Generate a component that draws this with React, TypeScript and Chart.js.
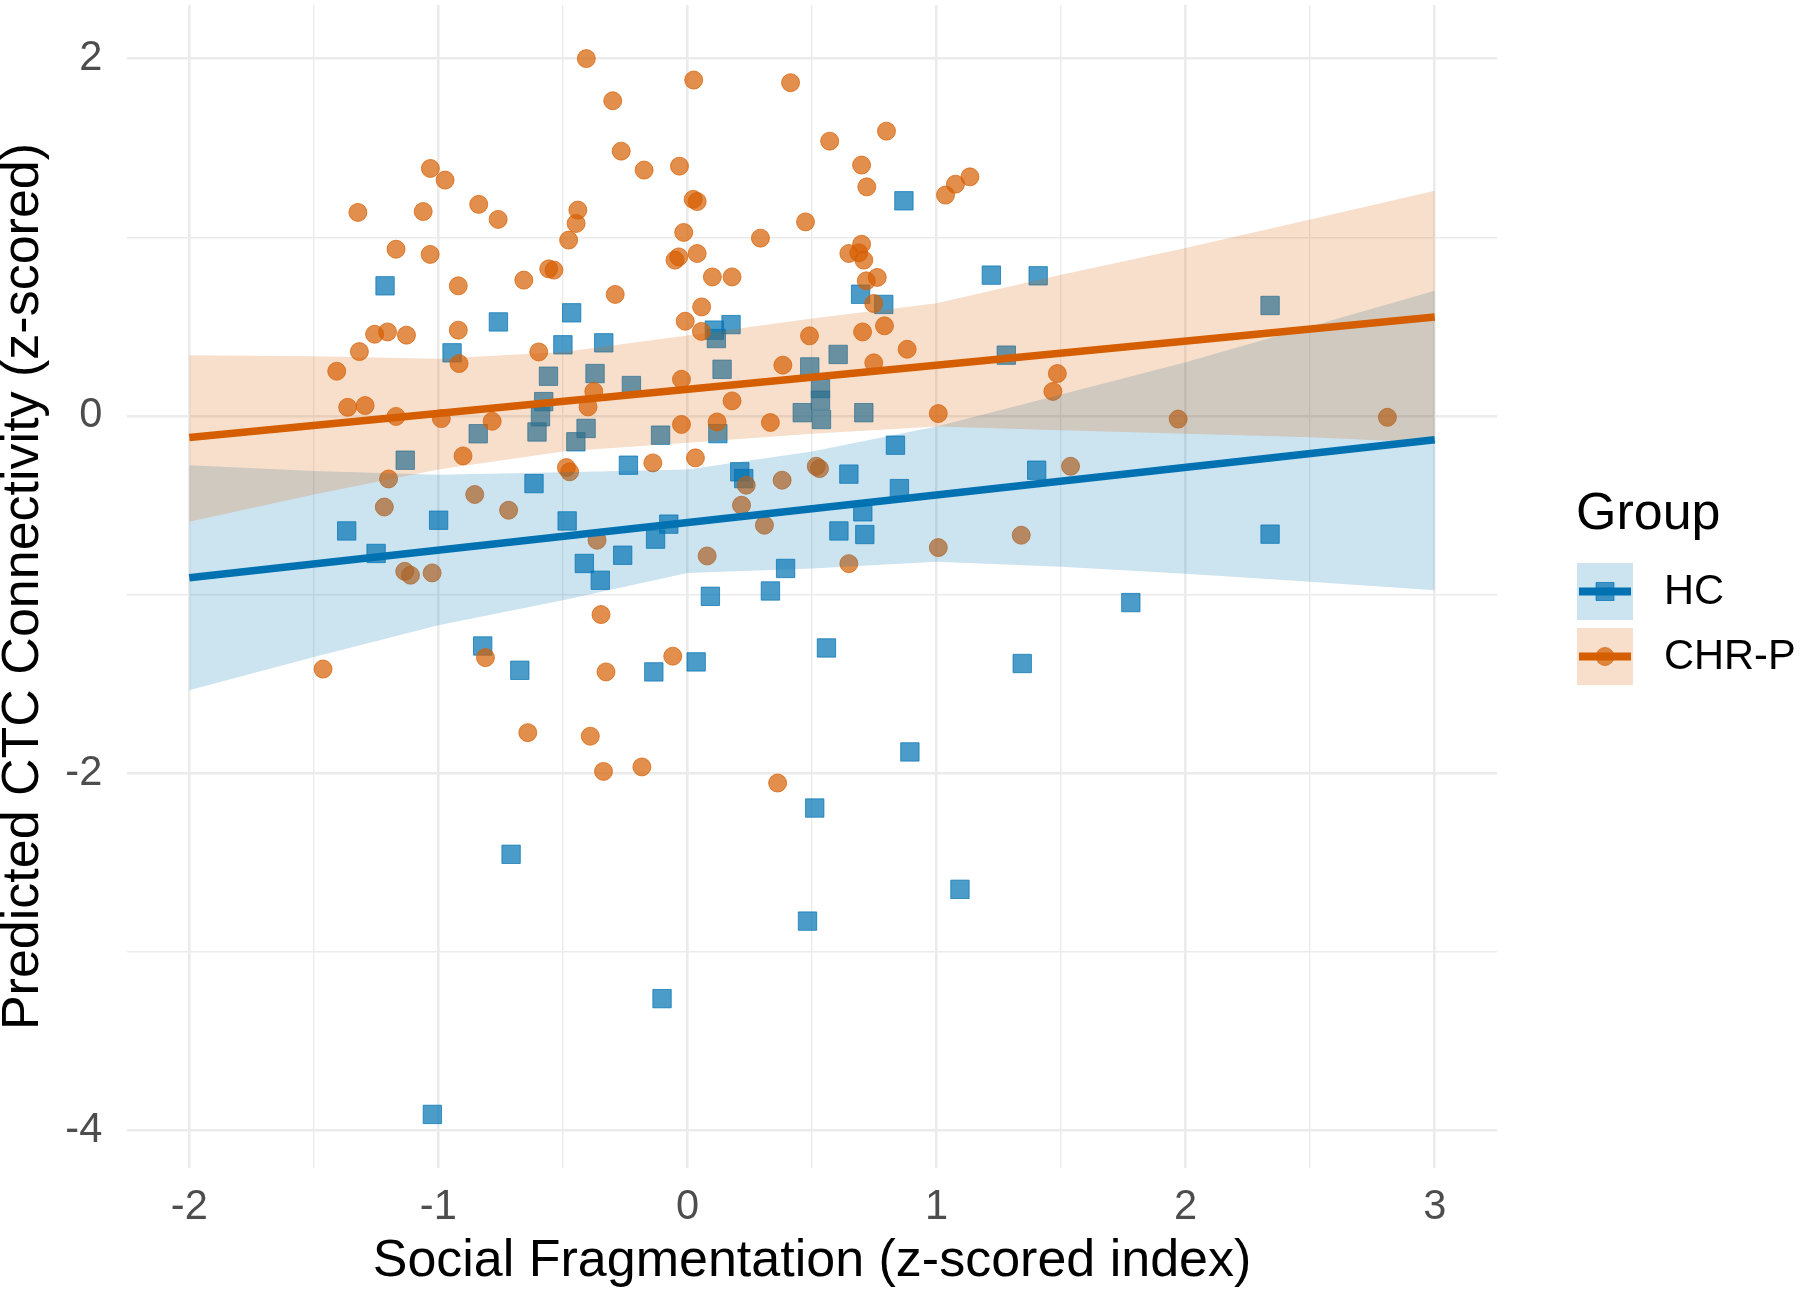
import React, { useEffect, useRef } from 'react';
import { Chart, registerables } from 'chart.js';

Chart.register(...registerables);

const FONT = '"Liberation Sans", Arial, Helvetica, sans-serif';

// Groups and their colours
const groups = ['HC', 'CHR-P'];
const groupColors = ['#0072B2', '#D55E00'];
const pointFills = ['rgba(0,114,178,0.7)', 'rgba(213,94,0,0.7)'];
const bandFills = ['rgba(0,114,178,0.2)', 'rgba(213,94,0,0.2)'];

// Observed points: [social fragmentation, predicted CTC connectivity]
const hcPoints: [number, number][] = [
  [-1.214, 0.728], [-0.759, 0.526], [-0.465, 0.577], [-0.945, 0.353], [-0.5, 0.398],
  [-0.336, 0.409], [-0.558, 0.222], [-0.371, 0.237], [-0.225, 0.17], [-0.577, 0.08],
  [-0.59, -0.005], [-0.604, -0.09], [-0.407, -0.07], [-0.448, -0.145], [-0.84, -0.1],
  [-1.133, -0.248], [-0.616, -0.379], [-0.237, -0.276], [-0.999, -0.584], [-1.368, -0.644],
  [-0.483, -0.588], [-1.25, -0.77], [-0.414, -0.826], [-0.35, -0.92], [-0.26, -0.78],
  [-0.822, -1.288], [-0.673, -1.424], [0.869, 1.204], [1.22, 0.788], [1.408, 0.784],
  [0.695, 0.681], [0.788, 0.624], [0.108, 0.48], [0.175, 0.511], [0.116, 0.433],
  [0.139, 0.261], [0.491, 0.274], [0.605, 0.344], [1.28, 0.34], [0.534, 0.153],
  [0.534, 0.088], [0.461, 0.018], [0.538, -0.02], [0.708, 0.018], [-0.108, -0.108],
  [0.122, -0.099], [0.835, -0.164], [0.21, -0.313], [0.226, -0.351], [0.648, -0.326],
  [0.851, -0.407], [1.402, -0.304], [-0.075, -0.606], [-0.128, -0.69], [0.704, -0.537],
  [0.608, -0.644], [0.712, -0.664], [0.394, -0.854], [0.333, -0.98], [0.092, -1.01],
  [0.558, -1.299], [-0.135, -1.433], [0.035, -1.377], [1.344, -1.386], [0.893, -1.881],
  [2.339, 0.618], [2.339, -0.662], [1.78, -1.045], [0.511, -2.195], [-0.708, -2.454],
  [0.482, -2.828], [-0.102, -3.262], [-1.024, -3.91], [1.094, -2.65],
];

const chrPoints: [number, number][] = [
  [-0.406, 2.0], [-0.3, 1.764], [-0.266, 1.482], [-1.032, 1.385], [-0.973, 1.32],
  [-1.323, 1.139], [-1.061, 1.144], [-0.838, 1.184], [-0.76, 1.1], [-0.44, 1.152],
  [-0.447, 1.077], [-0.477, 0.984], [-1.17, 0.933], [-1.033, 0.904], [-0.657, 0.76],
  [-0.557, 0.823], [-0.536, 0.816], [-0.92, 0.728], [-0.29, 0.68], [-0.92, 0.48],
  [-1.256, 0.457], [-1.204, 0.47], [-1.128, 0.452], [-1.317, 0.36], [-0.597, 0.358],
  [-0.917, 0.293], [-1.408, 0.25], [-1.364, 0.048], [-1.294, 0.058], [-0.376, 0.137],
  [-0.399, 0.05], [-1.17, -0.003], [-0.784, -0.03], [-0.988, -0.015], [-0.901, -0.224],
  [-1.2, -0.353], [-0.854, -0.44], [-0.486, -0.289], [-0.473, -0.313], [-1.217, -0.51],
  [-0.718, -0.528], [-0.363, -0.696], [-1.135, -0.87], [-1.112, -0.892], [-1.025, -0.879],
  [-0.347, -1.112], [-1.463, -1.417], [-0.811, -1.353], [-0.327, -1.433], [-0.641, -1.773],
  [-0.39, -1.793], [0.025, 1.88], [0.414, 1.865], [0.571, 1.538], [0.799, 1.594],
  [-0.174, 1.376], [-0.032, 1.398], [0.699, 1.404], [0.72, 1.282], [1.036, 1.236],
  [1.076, 1.297], [1.134, 1.338], [0.023, 1.212], [0.039, 1.2], [0.474, 1.086],
  [-0.015, 1.027], [0.293, 0.995], [-0.05, 0.872], [-0.035, 0.89], [0.039, 0.909],
  [0.648, 0.909], [0.699, 0.961], [0.688, 0.913], [0.708, 0.872], [0.1, 0.778],
  [0.179, 0.778], [0.762, 0.775], [0.718, 0.756], [0.057, 0.61], [-0.009, 0.53],
  [0.056, 0.473], [0.49, 0.448], [0.703, 0.47], [0.791, 0.504], [0.748, 0.629],
  [0.882, 0.373], [0.383, 0.284], [-0.024, 0.205], [0.748, 0.297], [0.179, 0.084],
  [1.485, 0.237], [1.467, 0.137], [1.007, 0.013], [-0.024, -0.048], [0.119, -0.034],
  [0.333, -0.037], [-0.139, -0.263], [0.032, -0.235], [0.236, -0.388], [0.38, -0.36],
  [0.517, -0.282], [0.53, -0.295], [1.538, -0.282], [0.217, -0.5], [0.309, -0.612],
  [0.079, -0.784], [1.007, -0.737], [1.34, -0.668], [0.648, -0.827], [-0.059, -1.345],
  [1.97, -0.018], [2.81, -0.008], [-0.337, -1.99], [-0.183, -1.965], [0.362, -2.055],
];

// Confidence bands of the fitted lines
const bandX = [-2, -1.5, -1, -0.5, 0, 0.5, 1, 1.5, 2, 2.5, 3];
const hcUpper = [-0.276, -0.309, -0.33, -0.316, -0.3, -0.2, -0.06, 0.12, 0.3, 0.5, 0.7];
const hcLower = [-1.536, -1.349, -1.172, -1.032, -0.88, -0.854, -0.817, -0.845, -0.883, -0.929, -0.976];
const chrUpper = [0.34, 0.334, 0.32, 0.358, 0.45, 0.545, 0.63, 0.79, 0.94, 1.1, 1.26];
const chrLower = [-0.593, -0.44, -0.3, -0.2, -0.15, -0.1, -0.06, -0.08, -0.1, -0.12, -0.15];

// Fitted lines (end points)
const fitX = [-2, 3];
const hcFit = [-0.906, -0.134];
const chrFit = [-0.121, 0.554];

// Axis breaks
const xBreaks = [-2, -1.5, -1, -0.5, 0, 0.5, 1, 1.5, 2, 2.5, 3];
const xLabelled = [-2, -1, 0, 1, 2, 3];
const yBreaks = [-4, -3, -2, -1, 0, 1, 2];
const yLabelled = [-4, -2, 0, 2];

const toXY = (xs: number[], ys: number[]) => xs.map((x, i) => ({ x, y: ys[i] }));
const pairs = (pts: [number, number][]) => pts.map(([x, y]) => ({ x, y }));

const GRID = '#EBEBEB';
const gridWidth = (labelled: number[]) => (ctx: any) =>
  labelled.includes(ctx.tick?.value) ? 2.6 : 1.4;

// Keep the panel edges exactly where the layout puts them
const noScalePadding = (scale: any) => {
  scale.paddingTop = 0;
  scale.paddingBottom = 0;
  scale.paddingLeft = 0;
  scale.paddingRight = 0;
};

// ggplot-style legend drawn to the right of the panel
const groupLegend = {
  id: 'groupLegend',
  afterDraw(chart: any) {
    const ctx: CanvasRenderingContext2D = chart.ctx;
    const left = chart.chartArea.right + 80;
    const keyW = 56;
    const keyH = 57;
    const keyGap = 8;
    const firstTop = 563;
    ctx.save();
    ctx.fillStyle = '#000000';
    ctx.textAlign = 'left';
    ctx.textBaseline = 'alphabetic';
    ctx.font = `52px ${FONT}`;
    ctx.fillText('Group', left - 1, 529);
    groups.forEach((name, i) => {
      const top = firstTop + i * (keyH + keyGap);
      const cx = left + keyW / 2;
      const cy = top + keyH / 2;
      ctx.fillStyle = bandFills[i];
      ctx.fillRect(left, top, keyW, keyH);
      ctx.fillStyle = pointFills[i];
      ctx.strokeStyle = pointFills[i];
      ctx.lineWidth = 1;
      ctx.beginPath();
      if (i === 0) {
        ctx.rect(cx - 9, cy - 9, 18, 18);
      } else {
        ctx.arc(cx, cy, 9, 0, Math.PI * 2);
      }
      ctx.fill();
      ctx.stroke();
      ctx.fillStyle = groupColors[i];
      ctx.fillRect(left + 2, cy - 4, keyW - 4, 8);
      ctx.fillStyle = '#000000';
      ctx.font = `41.6px ${FONT}`;
      ctx.textBaseline = 'middle';
      ctx.fillText(name, left + 87, cy + 1);
      ctx.textBaseline = 'alphabetic';
    });
    ctx.restore();
  },
};

export default function App() {
  const canvasRef = useRef<HTMLCanvasElement | null>(null);

  useEffect(() => {
    const canvas = canvasRef.current;
    if (!canvas) return;
    Chart.defaults.font.family = FONT;

    const chart = new Chart(canvas, {
      type: 'scatter',
      data: {
        datasets: [
          {
            type: 'line',
            label: 'HC fit',
            data: toXY(fitX, hcFit),
            borderColor: groupColors[0],
            borderWidth: 7.5,
            pointRadius: 0,
            fill: false,
            order: 0,
          },
          {
            type: 'line',
            label: 'CHR-P fit',
            data: toXY(fitX, chrFit),
            borderColor: groupColors[1],
            borderWidth: 7.5,
            pointRadius: 0,
            fill: false,
            order: 1,
          },
          {
            type: 'line',
            label: 'CHR-P upper',
            data: toXY(bandX, chrUpper),
            borderColor: 'rgba(0,0,0,0)',
            borderWidth: 1,
            pointRadius: 0,
            backgroundColor: bandFills[1],
            fill: '+1',
            order: 2,
          },
          {
            type: 'line',
            label: 'CHR-P lower',
            data: toXY(bandX, chrLower),
            borderColor: 'rgba(0,0,0,0)',
            borderWidth: 1,
            pointRadius: 0,
            fill: false,
            order: 2,
          },
          {
            type: 'line',
            label: 'HC upper',
            data: toXY(bandX, hcUpper),
            borderColor: 'rgba(0,0,0,0)',
            borderWidth: 1,
            pointRadius: 0,
            backgroundColor: bandFills[0],
            fill: '+1',
            order: 3,
          },
          {
            type: 'line',
            label: 'HC lower',
            data: toXY(bandX, hcLower),
            borderColor: 'rgba(0,0,0,0)',
            borderWidth: 1,
            pointRadius: 0,
            fill: false,
            order: 3,
          },
          {
            label: 'CHR-P',
            data: pairs(chrPoints),
            pointStyle: 'circle',
            pointRadius: 9,
            backgroundColor: pointFills[1],
            borderColor: pointFills[1],
            borderWidth: 1,
            order: 4,
          },
          {
            label: 'HC',
            data: pairs(hcPoints),
            pointStyle: 'rect',
            pointRadius: 13,
            backgroundColor: pointFills[0],
            borderColor: pointFills[0],
            borderWidth: 1,
            order: 5,
          },
        ],
      },
      options: {
        responsive: false,
        animation: false,
        devicePixelRatio: 1,
        events: [],
        layout: { autoPadding: false, padding: { left: 0, right: 303, top: 5, bottom: 0 } },
        plugins: {
          legend: { display: false },
          tooltip: { enabled: false },
        },
        scales: {
          x: {
            type: 'linear',
            min: -2.25,
            max: 3.25,
            afterBuildTicks: (scale: any) => {
              scale.ticks = xBreaks.map((value) => ({ value }));
            },
            afterFit: (scale: any) => {
              scale.height = 130;
              noScalePadding(scale);
            },
            grid: { color: GRID, lineWidth: gridWidth(xLabelled), drawTicks: false },
            border: { display: false },
            ticks: {
              autoSkip: false,
              maxRotation: 0,
              padding: 14.7,
              color: '#4D4D4D',
              font: { size: 41.6, family: FONT },
              callback: (v: any) => (xLabelled.includes(Number(v)) ? String(v) : ''),
            },
            title: {
              display: true,
              text: 'Social Fragmentation (z-scored index)',
              color: '#000000',
              font: { size: 52, family: FONT },
              padding: { top: 0, bottom: 4.8 },
            },
          },
          y: {
            type: 'linear',
            min: -4.21,
            max: 2.3,
            afterBuildTicks: (scale: any) => {
              scale.ticks = yBreaks.map((value) => ({ value }));
            },
            afterFit: (scale: any) => {
              scale.width = 127;
              noScalePadding(scale);
            },
            grid: { color: GRID, lineWidth: gridWidth(yLabelled), drawTicks: false },
            border: { display: false },
            ticks: {
              autoSkip: false,
              padding: 24.7,
              color: '#4D4D4D',
              font: { size: 41.6, family: FONT },
              callback: (v: any) => (yLabelled.includes(Number(v)) ? String(v) : ''),
            },
            title: {
              display: true,
              text: 'Predicted CTC Connectivity (z-scored)',
              color: '#000000',
              font: { size: 52, family: FONT, lineHeight: 0.9 },
              padding: { top: 0.6, bottom: 0 },
            },
          },
        },
      },
      plugins: [groupLegend],
    } as any);

    return () => chart.destroy();
  }, []);

  return (
    <div style={{ position: 'absolute', left: 0, top: 0, width: 1800, height: 1298, background: '#ffffff' }}>
      <canvas ref={canvasRef} width={1800} height={1298} style={{ width: 1800, height: 1298, display: 'block' }} />
    </div>
  );
}
